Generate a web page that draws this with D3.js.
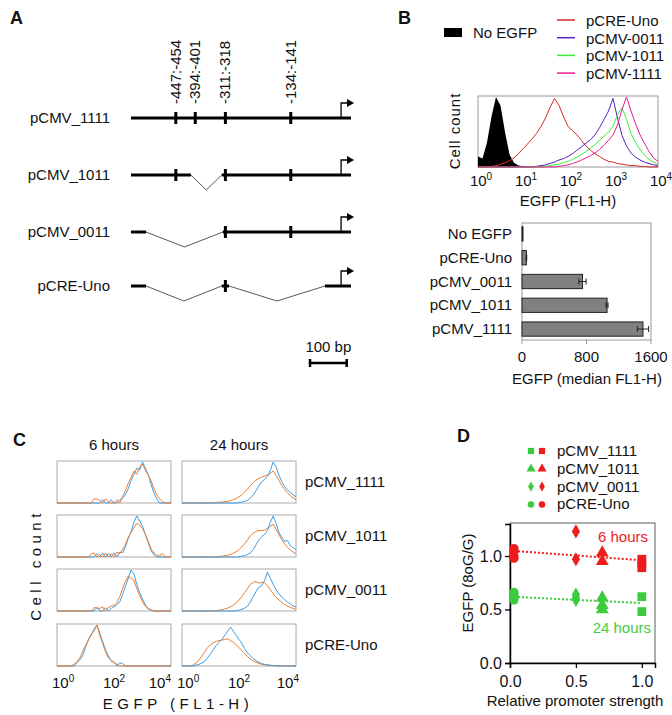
<!DOCTYPE html>
<html>
<head>
<meta charset="utf-8">
<script src="https://d3js.org/d3.v7.min.js"></script>
<style>
  body { margin: 0; background: #fff; }
  svg text { font-family: "Liberation Sans", Arial, Helvetica, sans-serif; fill: #111; }
</style>
</head>
<body>
<svg id="fig" width="672" height="715"></svg>
<script>
// ---------- data ----------
// A: promoter constructs (bp relative to transcription start)
const siteLabels = ["-447:-454", "-394:-401", "-311:-318", "-134:-141"];
const sitePos = [-450, -397, -315, -137];
const constructNames = ["pCMV_1111", "pCMV_1011", "pCMV_0011", "pCRE-Uno"];
const constructKept = [
  [[-572, 27]],
  [[-572, -409], [-325, 27]],
  [[-572, -531], [-322, 27]],
  [[-572, -531], [-325, -305], [-44, 27]]
];
const constructSites = [[0, 1, 2, 3], [0, 2, 3], [2, 3], [2]];

// B: histograms, counts per 0.1-decade bin from 10^0 to 10^4
const histNames = ["pCRE-Uno", "pCMV-0011", "pCMV-1011", "pCMV-1111"];
const histColors = ["#d42a25", "#5b1fc4", "#3ded3a", "#ec1a8f"];
const histNoEgfp = [
  15, 12, 35, 72, 100, 88, 50, 18, 6, 2,
  1, 0, 0, 0, 0, 0, 0, 0, 0, 0,
  0, 0, 0, 0, 0, 0, 0, 0, 0, 0,
  0, 0, 0, 0, 0, 0, 0, 0, 0, 0,
  0];
const histCre = [
  0, 0, 0, 1, 2, 4, 6, 9, 13, 19,
  26, 33, 40, 48, 58, 70, 85, 98, 88, 72,
  58, 52, 46, 38, 30, 24, 19, 15, 11, 8,
  7, 5, 4, 3, 2, 2, 1, 1, 0, 0,
  0];
const hist0011 = [
  0, 0, 0, 0, 0, 0, 0, 0, 0, 0,
  0, 0, 0, 1, 2, 3, 5, 7, 10, 12,
  15, 19, 24, 29, 34, 39, 46, 56, 68, 80,
  98, 70, 45, 30, 20, 14, 10, 7, 5, 3,
  2];
const hist1011 = [
  0, 0, 0, 0, 0, 0, 0, 0, 0, 0,
  0, 0, 0, 0, 0, 1, 2, 3, 4, 6,
  8, 11, 14, 18, 22, 27, 32, 38, 44, 50,
  58, 75, 85, 68, 48, 35, 25, 17, 11, 7,
  4];
const hist1111 = [
  0, 0, 0, 0, 0, 0, 0, 0, 0, 0,
  0, 0, 0, 0, 0, 0, 0, 0, 1, 2,
  3, 5, 7, 10, 13, 16, 20, 25, 31, 38,
  46, 60, 82, 100, 80, 62, 46, 34, 22, 13,
  8];

// B: median EGFP bars
const barCategories = ["No EGFP", "pCRE-Uno", "pCMV_0011", "pCMV_1011", "pCMV_1111"];
const barMedian = [5, 55, 750, 1055, 1500];
const barError = [0, 4, 45, 12, 70];
const barTicks = [0, 800, 1600];

// C: 6 h and 24 h histograms (blue / orange), same bins as B
const cRows = ["pCMV_1111", "pCMV_1011", "pCMV_0011", "pCRE-Uno"];
const cCols = ["6 hours", "24 hours"];
const blue6h_1111 = [
  0, 0, 0, 0, 0, 0, 0, 0, 0, 0,
  0, 0, 0, 0, 0, 0, 8, 0, 0, 8,
  0, 0, 8, 12, 20, 35, 55, 70, 85, 80,
  100, 85, 70, 45, 25, 10, 0, 0, 0, 0,
  0];
const orange6h_1111 = [
  0, 0, 0, 0, 0, 0, 0, 0, 0, 0,
  0, 0, 0, 10, 10, 6, 0, 10, 4, 0,
  0, 8, 0, 15, 30, 48, 62, 78, 70, 88,
  95, 80, 68, 55, 35, 20, 10, 3, 0, 0,
  0];
const blue24h_1111 = [
  0, 0, 0, 0, 0, 0, 0, 0, 0, 0,
  0, 0, 0, 0, 0, 0, 0, 0, 0, 0,
  1, 2, 4, 7, 12, 20, 30, 42, 52, 58,
  65, 80, 100, 88, 68, 52, 40, 32, 25, 20,
  15];
const orange24h_1111 = [
  0, 0, 0, 0, 0, 0, 0, 0, 0, 0,
  0, 1, 1, 2, 2, 3, 4, 6, 8, 11,
  15, 20, 27, 34, 42, 50, 56, 60, 63, 66,
  68, 72, 78, 68, 55, 43, 33, 25, 18, 12,
  8];
const blue6h_1011 = [
  0, 0, 0, 0, 0, 0, 0, 0, 0, 0,
  0, 0, 0, 0, 8, 0, 10, 0, 8, 0,
  10, 0, 12, 10, 25, 45, 62, 85, 100, 88,
  75, 55, 35, 15, 5, 0, 0, 0, 0, 0,
  0];
const orange6h_1011 = [
  0, 0, 0, 0, 0, 0, 0, 0, 0, 0,
  0, 0, 8, 10, 0, 6, 0, 10, 0, 8,
  0, 12, 8, 18, 30, 48, 60, 72, 82, 78,
  70, 55, 38, 20, 10, 5, 3, 8, 0, 0,
  0];
const blue24h_1011 = [
  0, 0, 0, 0, 0, 0, 0, 0, 0, 0,
  0, 0, 0, 0, 0, 0, 0, 0, 0, 0,
  1, 2, 3, 6, 10, 18, 30, 42, 50, 55,
  65, 85, 100, 82, 60, 48, 38, 40, 28, 22,
  18];
const orange24h_1011 = [
  0, 0, 0, 0, 0, 0, 0, 0, 0, 0,
  0, 0, 1, 1, 2, 3, 4, 6, 9, 13,
  18, 25, 33, 42, 52, 58, 62, 65, 64, 66,
  70, 75, 80, 68, 55, 42, 32, 24, 17, 12,
  8];
const blue6h_0011 = [
  0, 0, 0, 0, 0, 0, 0, 0, 0, 0,
  0, 0, 0, 0, 8, 0, 0, 8, 0, 6,
  10, 15, 22, 40, 60, 80, 100, 90, 65, 45,
  30, 15, 5, 2, 0, 0, 0, 0, 0, 0,
  0];
const orange6h_0011 = [
  0, 0, 0, 0, 0, 0, 0, 0, 0, 0,
  0, 0, 0, 8, 8, 6, 10, 0, 8, 12,
  14, 20, 35, 55, 72, 85, 80, 75, 55, 38,
  22, 12, 6, 3, 0, 0, 0, 0, 0, 0,
  0];
const blue24h_0011 = [
  0, 0, 0, 0, 0, 0, 0, 0, 0, 0,
  0, 0, 0, 0, 0, 0, 0, 0, 0, 1,
  2, 4, 7, 12, 22, 35, 48, 58, 62, 75,
  95, 80, 65, 52, 42, 34, 28, 22, 17, 12,
  10];
const orange24h_0011 = [
  0, 0, 0, 0, 0, 0, 0, 0, 0, 0,
  0, 1, 1, 2, 3, 5, 7, 10, 14, 20,
  27, 35, 45, 55, 65, 70, 72, 68, 70, 68,
  62, 52, 42, 34, 27, 21, 16, 12, 9, 6,
  4];
const blue6h_cre = [
  0, 0, 0, 0, 0, 0, 0, 8, 15, 25,
  45, 65, 75, 90, 100, 80, 60, 40, 25, 12,
  10, 0, 8, 6, 0, 0, 0, 0, 0, 0,
  0, 0, 0, 0, 0, 0, 0, 0, 0, 0,
  0];
const orange6h_cre = [
  0, 0, 0, 0, 0, 0, 5, 10, 20, 35,
  50, 62, 78, 85, 100, 75, 55, 35, 20, 15,
  8, 5, 0, 0, 0, 0, 0, 0, 0, 0,
  0, 0, 0, 0, 0, 0, 0, 0, 0, 0,
  0];
const blue24h_cre = [
  0, 0, 0, 0, 1, 2, 4, 7, 12, 20,
  30, 40, 50, 58, 65, 75, 85, 95, 85, 75,
  65, 55, 42, 32, 25, 18, 13, 9, 6, 4,
  3, 2, 1, 1, 0, 0, 0, 0, 0, 0,
  0];
const orange24h_cre = [
  0, 0, 0, 0, 3, 8, 15, 25, 35, 45,
  52, 57, 60, 62, 63, 65, 66, 62, 58, 52,
  45, 38, 30, 23, 17, 12, 9, 6, 4, 3,
  2, 1, 1, 0, 0, 0, 0, 0, 0, 0,
  0];

// D: EGFP ratio vs promoter strength
const promoterNames = ["pCMV_1111", "pCMV_1011", "pCMV_0011", "pCRE-Uno"];
const promoterStrength = [1.0, 0.7, 0.5, 0.03];
const ratio6h = [[0.97, 0.93, 0.89], [1.03, 0.95], [1.23, 0.97], [1.07, 1.04, 1.0, 0.98]];
const ratio24h = [[0.62, 0.48], [0.61, 0.54, 0.50], [0.64, 0.61, 0.59], [0.66, 0.63, 0.61, 0.59]];
const trend6h = [1.05, 0.96];   // fitted value at strength 0 and 1
const trend24h = [0.62, 0.56];

// ---------- drawing ----------
const svg = d3.select("#fig");
svg.append("rect").attr("width", 672).attr("height", 715).attr("fill", "#fff");

function txt(x, y, s, size, anchor) {
  return svg.append("text").attr("x", x).attr("y", y)
    .attr("font-size", size || 15).attr("text-anchor", anchor || "start").text(s);
}
// 10^n label
function powLabel(g, x, y, n, anchor) {
  const t = g.append("text").attr("x", x).attr("y", y)
    .attr("font-size", 15).attr("text-anchor", anchor || "middle");
  t.append("tspan").text("10");
  t.append("tspan").attr("dy", -6).attr("font-size", 10).text(n);
  return t;
}

// panel letters
[["A", 10, 24], ["B", 398, 24], ["C", 13, 446], ["D", 457, 442]].forEach(d => {
  txt(d[1], d[2], d[0], 18).attr("font-weight", "bold");
});

// ----- A -----
const xA = d3.scaleLinear().domain([-572, 27]).range([131, 351]);
const rowA = [118, 175, 232, 286];

siteLabels.forEach((s, i) => {
  svg.append("text")
    .attr("transform", `translate(${xA(sitePos[i]) + 5},104) rotate(-90)`)
    .attr("font-size", 15).attr("text-anchor", "start").text(s);
});

constructNames.forEach((name, r) => {
  const y = rowA[r];
  txt(110, y + 5, name, 15, "end");
  const kept = constructKept[r];
  kept.forEach(k => {
    svg.append("line").attr("x1", xA(k[0])).attr("x2", xA(k[1]))
      .attr("y1", y).attr("y2", y).attr("stroke", "#000").attr("stroke-width", 3);
  });
  for (let i = 0; i < kept.length - 1; i++) {
    const x1 = xA(kept[i][1]), x2 = xA(kept[i + 1][0]);
    svg.append("polyline")
      .attr("points", `${x1},${y} ${(x1 + x2) / 2},${y + 15} ${x2},${y}`)
      .attr("fill", "none").attr("stroke", "#444").attr("stroke-width", 0.9);
  }
  constructSites[r].forEach(si => {
    svg.append("line").attr("x1", xA(sitePos[si])).attr("x2", xA(sitePos[si]))
      .attr("y1", y - 6).attr("y2", y + 6).attr("stroke", "#000").attr("stroke-width", 3);
  });
  // transcription start arrow
  const x0 = xA(0);
  svg.append("path").attr("d", `M${x0},${y} V${y - 15} H${x0 + 7}`)
    .attr("fill", "none").attr("stroke", "#000").attr("stroke-width", 1.3);
  svg.append("path").attr("d", `M${x0 + 6},${y - 19} L${x0 + 13},${y - 15} L${x0 + 6},${y - 11} Z`)
    .attr("fill", "#000");
});

// scale bar
const barLen = xA(100) - xA(0);
const sbX = 310, sbY = 363;
txt(sbX + barLen / 2, 352, "100 bp", 15, "middle");
svg.append("path")
  .attr("d", `M${sbX},${sbY} H${sbX + barLen} M${sbX},${sbY - 4} V${sbY + 4} M${sbX + barLen},${sbY - 4} V${sbY + 4}`)
  .attr("stroke", "#000").attr("stroke-width", 2.5).attr("fill", "none");

// ----- B: histogram -----
const binDecades = d3.range(41).map(i => i / 10);
const xHist = d3.scaleLog().domain([1, 1e4]).range([478, 658]);
const yHist = d3.scaleLinear().domain([0, 100]).range([167, 97]);

svg.append("rect").attr("x", 444).attr("y", 28).attr("width", 18).attr("height", 9).attr("fill", "#000");
txt(473, 38, "No EGFP", 15);
histNames.forEach((n, i) => {
  const y = 20 + i * 17.7;
  svg.append("line").attr("x1", 557).attr("x2", 575).attr("y1", y).attr("y2", y)
    .attr("stroke", histColors[i]).attr("stroke-width", 1.5);
  txt(586, y + 6, n, 15);
});

svg.append("rect").attr("x", 478).attr("y", 96).attr("width", 180).attr("height", 71)
  .attr("fill", "none").attr("stroke", "#999");

const areaB = d3.area()
  .x((d, i) => xHist(Math.pow(10, binDecades[i])))
  .y0(yHist(0)).y1(d => yHist(d));
svg.append("path").datum(histNoEgfp).attr("d", areaB).attr("fill", "#000");

const lineB = d3.line()
  .x((d, i) => xHist(Math.pow(10, binDecades[i])))
  .y(d => yHist(d));
[histCre, hist0011, hist1011, hist1111].forEach((h, i) => {
  svg.append("path").datum(h).attr("d", lineB)
    .attr("fill", "none").attr("stroke", histColors[i]).attr("stroke-width", 1);
});
[0, 1, 2, 3, 4].forEach(n => powLabel(svg, xHist(Math.pow(10, n)) + 3, 186, n));
txt(568, 206, "EGFP (FL1-H)", 15, "middle");
svg.append("text").attr("transform", "translate(460,131) rotate(-90)")
  .attr("font-size", 15).attr("text-anchor", "middle").attr("letter-spacing", 1).text("Cell count");

// ----- B: bars -----
const xBar = d3.scaleLinear().domain([0, 1600]).range([522, 651]);
const yBar = d3.scaleBand().domain(barCategories).range([223, 340])
  .paddingInner(0.4).paddingOuter(0.16);

svg.append("rect").attr("x", 522).attr("y", 223).attr("width", 129).attr("height", 117)
  .attr("fill", "none").attr("stroke", "#999");
svg.selectAll(".bar").data(barCategories).join("rect")
  .attr("class", "bar")
  .attr("x", xBar(0))
  .attr("y", d => yBar(d))
  .attr("width", (d, i) => Math.max(1, xBar(barMedian[i]) - xBar(0)))
  .attr("height", yBar.bandwidth())
  .attr("fill", "#808080").attr("stroke", "#222").attr("stroke-width", 1);
barCategories.forEach((c, i) => {
  const cy = yBar(c) + yBar.bandwidth() / 2;
  txt(512, cy + 5, c, 15, "end");
  if (barError[i] > 0) {
    const a = xBar(barMedian[i] - barError[i]), b = xBar(barMedian[i] + barError[i]);
    svg.append("path").attr("d", `M${a},${cy} H${b} M${a},${cy - 3} V${cy + 3} M${b},${cy - 3} V${cy + 3}`)
      .attr("stroke", "#222").attr("stroke-width", 1).attr("fill", "none");
  }
});
barTicks.forEach(t => {
  svg.append("line").attr("x1", xBar(t)).attr("x2", xBar(t)).attr("y1", 340).attr("y2", 344)
    .attr("stroke", "#999");
  txt(xBar(t), 362, t, 15, "middle");
});
txt(587, 384, "EGFP (median FL1-H)", 15, "middle");

// ----- C -----
const cHists = [
  [[blue6h_1111, orange6h_1111], [blue24h_1111, orange24h_1111]],
  [[blue6h_1011, orange6h_1011], [blue24h_1011, orange24h_1011]],
  [[blue6h_0011, orange6h_0011], [blue24h_0011, orange24h_0011]],
  [[blue6h_cre, orange6h_cre], [blue24h_cre, orange24h_cre]]
];
const cColX = [57, 182], cW = 114, cH = 42;
const cRowY = [461, 515, 569, 624];
const xC = d3.scaleLog().domain([1, 1e4]).range([0, cW]);
const yC = d3.scaleLinear().domain([0, 100]).range([cH, 1]);
const lineC = d3.line()
  .x((d, i) => xC(Math.pow(10, binDecades[i])))
  .y(d => yC(d));

cCols.forEach((c, j) => txt(cColX[j] + cW / 2, 450, c, 15, "middle"));
cRows.forEach((name, r) => {
  cCols.forEach((c, j) => {
    const g = svg.append("g").attr("transform", `translate(${cColX[j]},${cRowY[r]})`);
    g.append("rect").attr("width", cW).attr("height", cH)
      .attr("fill", "none").attr("stroke", "#aaa");
    const pair = cHists[r][j];
    const order = j === 0 ? [0, 1] : [1, 0];
    order.forEach(k => {
      g.append("path").datum(pair[k]).attr("d", lineC).attr("fill", "none")
        .attr("stroke", k === 0 ? "#3a9ee6" : "#f07b2b").attr("stroke-width", 1);
    });
  });
  txt(305, cRowY[r] + cH / 2 + 5, name, 15);
});
cColX.forEach(x0 => {
  const g = svg.append("g").attr("transform", `translate(${x0},688)`);
  powLabel(g, xC(1) - 5, 0, 0, "start");
  powLabel(g, xC(100), 0, 2, "middle");
  powLabel(g, xC(1e4) + (x0 === 57 ? 0 : 3), 0, 4, "end");
});
txt(178, 709, "EGFP (FL1-H)", 15, "middle").attr("letter-spacing", 4.5).attr("xml:space", "preserve");
svg.append("text").attr("transform", "translate(41,565) rotate(-90)")
  .attr("font-size", 15).attr("text-anchor", "middle").attr("letter-spacing", 4.5).text("Cell count");

// ----- D -----
const xD = d3.scaleLinear().domain([0, 1.1]).range([510, 655]);
const yD = d3.scaleLinear().domain([0, 1.3]).range([663, 523.9]);
const red = "#ee1c1c", green = "#3ccb3c";
const symbols = [d3.symbolSquare, d3.symbolTriangle, d3.symbolDiamond, d3.symbolCircle];
const symSize = [64, 60, 48, 56];

svg.append("rect").attr("x", 510).attr("y", 523).attr("width", 145).attr("height", 140)
  .attr("fill", "none").attr("stroke", "#333").attr("stroke-width", 0.8);

const axL = svg.append("g").attr("transform", "translate(510,0)")
  .call(d3.axisLeft(yD).tickValues([0, 0.5, 1]).tickFormat(d3.format(".1f")).tickSize(5));
const axB = svg.append("g").attr("transform", "translate(0,663)")
  .call(d3.axisBottom(xD).tickValues([0, 0.5, 1]).tickFormat(d3.format(".1f")).tickSize(5));
[axL, axB].forEach(a => {
  a.attr("font-family", null).attr("font-size", 16);
  a.select(".domain").attr("stroke", "#000").attr("stroke-width", 1.5);
  a.selectAll(".tick line").attr("stroke", "#000").attr("stroke-width", 1.3);
  a.selectAll(".tick text").attr("fill", "#111");
});
axB.selectAll(".tick text").attr("dy", "1.0em");

[[trend6h, red], [trend24h, green]].forEach(t => {
  svg.append("line").attr("x1", xD(0)).attr("x2", xD(1))
    .attr("y1", yD(t[0][0])).attr("y2", yD(t[0][1]))
    .attr("stroke", t[1]).attr("stroke-width", 2).attr("stroke-dasharray", "2,2");
});
[[ratio6h, red], [ratio24h, green]].forEach(set => {
  set[0].forEach((vals, i) => {
    vals.forEach(v => {
      svg.append("path")
        .attr("d", d3.symbol(symbols[i], symSize[i] * 1.2)())
        .attr("transform", `translate(${xD(promoterStrength[i])},${yD(v)})`)
        .attr("fill", set[1]);
    });
  });
});
txt(648, 542, "6 hours", 15, "end").style("fill", red);
txt(651, 633, "24 hours", 15, "end").style("fill", "#44cc44");
txt(575, 706, "Relative promoter strength", 15, "middle");
svg.append("text").attr("transform", "translate(473,583) rotate(-90)")
  .attr("font-size", 15).attr("text-anchor", "middle").text("EGFP (8oG/G)");

// legend D
promoterNames.forEach((n, i) => {
  const y = 451 + i * 17.8;
  [green, red].forEach((col, k) => {
    svg.append("path").attr("d", d3.symbol(symbols[i], symSize[i] * 0.6)())
      .attr("transform", `translate(${531 + k * 11},${y})`).attr("fill", col);
  });
  txt(557, y + 5, n, 15);
});
</script>
</body>
</html>
